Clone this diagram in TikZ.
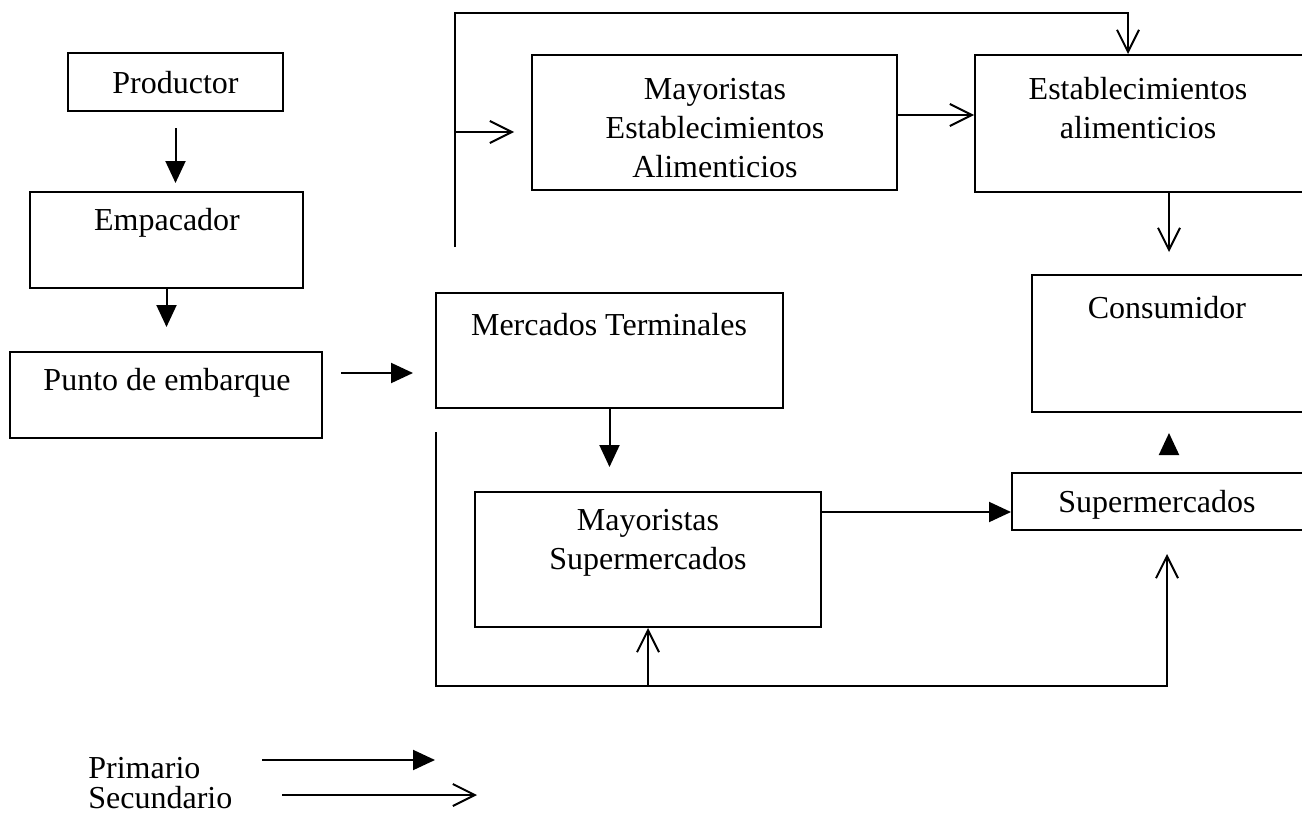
\documentclass[tikz,border=0pt]{standalone}
\usepackage{fontspec}
\setmainfont{Liberation Serif}
\usetikzlibrary{arrows.meta,fit,calc}

\tikzset{
  box/.style={draw, line width=1pt, inner sep=0pt},
  lbl/.style={font=\fontsize{16}{19.5}\selectfont, align=center, inner sep=0pt},
  prim/.style={line width=1pt, -{Triangle[length=11pt,width=10pt]}},
  sec/.style={line width=1pt, -{Straight Barb[length=11pt,width=11pt]}},
}

\begin{document}
\begin{tikzpicture}[x=0.5pt, y=-0.5pt]
  \useasboundingbox (0,0) rectangle (1302,819);

  % boxes
  \node[box, fit={(68,53) (283,111)}]    (prod)   {};
  \node[box, fit={(30,192) (303,288)}]   (emp)    {};
  \node[box, fit={(10,352) (322,438)}]   (punto)  {};
  \node[box, fit={(436,293) (783,408)}]  (merc)   {};
  \node[box, fit={(475,492) (821,627)}]  (maysup) {};
  \node[box, fit={(532,55) (897,190)}]   (mayest) {};
  \node[box, fit={(975,55) (1306,192)}]  (estab)  {};
  \node[box, fit={(1032,275) (1306,412)}] (cons)  {};
  \node[box, fit={(1012,473) (1306,530)}] (super) {};

  % box texts
  \node[lbl] (prodT)   at (175.5,83) {Productor};
  \node[lbl] (empT)    at (167,223)  {Empacador};
  \node[lbl] (puntoT)  at (167,383)  {Punto de embarque};
  \node[lbl] (mercT)   at (609,325)  {Mercados Terminales};
  \node[lbl] (mayestT) at (715,128)  {Mayoristas\\Establecimientos\\Alimenticios};
  \node[lbl] (estabT)  at (1138,108) {Establecimientos\\alimenticios};
  \node[lbl] (consT)   at (1167,308) {Consumidor};
  \node[lbl] (superT)  at (1157,505) {Supermercados};
  \node[lbl] (maysupT) at (648,543)  {Mayoristas\\Supermercados};

  % primary flow
  \draw[prim, shorten <=8pt, shorten >=4pt] (prod.south) -- (prod.south |- emp.north);
  \draw[prim, shorten >=12pt] (emp.south) -- (emp.south |- punto.north);
  \coordinate (mercin) at ([yshift=11pt]punto.east);
  \draw[prim, shorten <=9pt, shorten >=11pt] (mercin) -- (mercin -| merc.west);
  \draw[prim, shorten >=12pt] (merc.south) -- (merc.south |- maysup.north);
  \coordinate (supin) at ([yshift=-5.25pt]super.west);
  \draw[prim] (supin -| maysup.east) -- (supin);
  \draw[prim, shorten <=9pt, shorten >=10pt] (super.north -| cons.south) -- (cons.south);

  % secondary flow, upper loop
  \coordinate (ta) at (455,247);
  \coordinate (tb) at (1128,13);
  \draw[sec] (ta) |- (tb) -- (tb |- estab.north);
  \coordinate (mayin) at ([yshift=-4.75pt]mayest.west);
  \draw[sec, shorten >=8.5pt] (mayin -| ta) -- (mayin);
  \coordinate (estin) at ([yshift=4.25pt]estab.west);
  \draw[sec] (estin -| mayest.east) -- (estin);
  \draw[sec, shorten >=11pt] (estab.south -| cons.north) -- (cons.north);

  % secondary flow, lower loop
  \coordinate (ba) at (436,432);
  \coordinate (bc) at (1167,686);
  \draw[sec, shorten >=11.5pt] (ba) |- (bc) -- (bc |- super.south);
  \draw[sec] (maysup.south |- bc) -- (maysup.south);

  % legend
  \node[lbl, anchor=west] (legP) at (88,768) {Primario};
  \node[lbl, anchor=west] (legS) at (88,798) {Secundario};
  \coordinate (lpa) at (262,760);
  \coordinate (lpb) at (435,760);
  \draw[prim] (lpa) -- (lpb);
  \coordinate (lsa) at (282,795);
  \coordinate (lsb) at (477,795);
  \draw[sec] (lsa) -- (lsb);
\end{tikzpicture}
\end{document}
